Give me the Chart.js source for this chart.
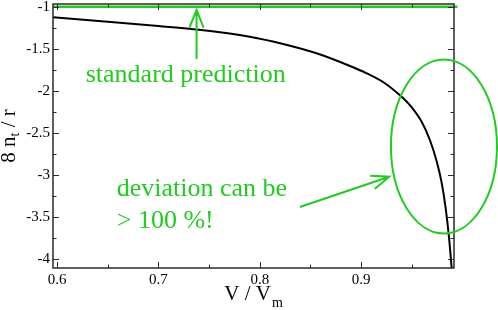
<!DOCTYPE html>
<html>
<head>
<title>8 n_t / r against V / V_m</title>
<style>
  body { margin: 0; background: #fff; }
  #box { width: 498px; height: 310px; }
</style>
</head>
<body>
<div id="box"><canvas id="myChart"></canvas></div>
<script src="https://cdn.jsdelivr.net/npm/chart.js"></script>
<script>
// black curve
const vRatio  = [0.596, 0.65, 0.70, 0.74, 0.79, 0.823, 0.856, 0.889, 0.905, 0.922, 0.933, 0.9416, 0.95, 0.9597, 0.9679, 0.9745, 0.9795, 0.9834, 0.9867, 0.9893];
const ntOverR = [-1.125, -1.178, -1.23, -1.275, -1.358, -1.444, -1.555, -1.706, -1.79, -1.90, -2.00, -2.09, -2.20, -2.37, -2.59, -2.84, -3.10, -3.40, -3.75, -4.11];

// green "standard prediction" line
const stdV = [0.596, 0.995];
const stdY = [-1, -1];

// axes
const xTicks = [0.6, 0.7, 0.8, 0.9];
const xMinor = [0.65, 0.75, 0.85, 0.95];
const yTicks = [-1, -1.5, -2, -2.5, -3, -3.5, -4];
const yMinor = [-1.25, -1.75, -2.25, -2.75, -3.25, -3.75];

const green = '#1fcc1f';
const axisCol = '#2a2a2a';
const serif = '"Liberation Serif", "Times New Roman", serif';

function pts(xs, ys) {
  return xs.map((x, i) => ({ x: x, y: ys[i] }));
}

// arrows, ellipse and labels, placed in data units
const notes = {
  arrowUp:   { from: [0.7376, -1.623], to: [0.7376, -1.039] },
  arrowSide: { from: [0.8396, -3.385], to: [0.9277, -3.024] },
  ellipse:   { cx: 0.9817, cy: -2.664, rx: 0.0523, ry: 1.036 },
  text1: { x: 0.6283, y: -1.892, lines: ['standard prediction'] },
  text2: { x: 0.6589, y: -3.25, lines: ['deviation can be', '> 100 %!'] }
};

function arrow(ctx, x1, y1, x2, y2) {
  const a = Math.atan2(y2 - y1, x2 - x1);
  const len = 19, spread = 0.38;
  ctx.beginPath();
  ctx.moveTo(x1, y1);
  ctx.lineTo(x2, y2);
  ctx.moveTo(x2 - len * Math.cos(a - spread), y2 - len * Math.sin(a - spread));
  ctx.lineTo(x2, y2);
  ctx.lineTo(x2 - len * Math.cos(a + spread), y2 - len * Math.sin(a + spread));
  ctx.stroke();
}

const extras = {
  id: 'extras',
  afterDraw(chart) {
    const ctx = chart.ctx;
    const a = chart.chartArea;
    const xs = chart.scales.x, ys = chart.scales.y;
    ctx.save();

    // frame
    ctx.strokeStyle = axisCol;
    ctx.lineWidth = 1.5;
    ctx.strokeRect(a.left, a.top, a.right - a.left, a.bottom - a.top);

    // ticks on all four sides, pointing in
    ctx.lineWidth = 1;
    ctx.beginPath();
    function xt(v, l) {
      const p = Math.round(xs.getPixelForValue(v)) + 0.5;
      ctx.moveTo(p, a.bottom); ctx.lineTo(p, a.bottom - l);
      ctx.moveTo(p, a.top); ctx.lineTo(p, a.top + l);
    }
    function yt(v, l) {
      const p = Math.round(ys.getPixelForValue(v)) + 0.5;
      ctx.moveTo(a.left, p); ctx.lineTo(a.left + l, p);
      ctx.moveTo(a.right, p); ctx.lineTo(a.right - l, p);
    }
    xTicks.forEach(v => xt(v, 6));
    xMinor.forEach(v => xt(v, 3.5));
    yTicks.forEach(v => yt(v, 6));
    yMinor.forEach(v => yt(v, 3.5));
    ctx.stroke();

    // axis titles
    ctx.fillStyle = '#000';
    ctx.textBaseline = 'alphabetic';
    ctx.textAlign = 'left';
    const big = '21px ' + serif, small = '14px ' + serif;
    ctx.font = big;
    const w1 = ctx.measureText('V / V').width;
    ctx.font = small;
    const w2 = ctx.measureText('m').width;
    let x0 = (a.left + a.right) / 2 - (w1 + w2 + 1) / 2;
    ctx.font = big;
    ctx.fillText('V / V', x0, 300);
    ctx.font = small;
    ctx.fillText('m', x0 + w1 + 1, 307);

    ctx.save();
    ctx.translate(15, (a.top + a.bottom) / 2);
    ctx.rotate(-Math.PI / 2);
    ctx.font = big;
    const p1 = ctx.measureText('8 n').width;
    const p3 = ctx.measureText(' / r').width;
    ctx.font = small;
    const p2 = ctx.measureText('t').width;
    let s = -(p1 + p2 + p3) / 2;
    ctx.font = big;
    ctx.fillText('8 n', s, 0);
    ctx.font = small;
    ctx.fillText('t', s + p1, 4);
    ctx.font = big;
    ctx.fillText(' / r', s + p1 + p2, 0);
    ctx.restore();

    // green annotations
    ctx.strokeStyle = green;
    ctx.fillStyle = green;
    ctx.lineWidth = 2;
    const px = v => xs.getPixelForValue(v);
    const py = v => ys.getPixelForValue(v);
    [notes.arrowUp, notes.arrowSide].forEach(n => {
      arrow(ctx, px(n.from[0]), py(n.from[1]), px(n.to[0]), py(n.to[1]));
    });
    const e = notes.ellipse;
    const ecx = px(e.cx), ecy = py(e.cy);
    ctx.beginPath();
    ctx.ellipse(ecx, ecy, px(e.cx + e.rx) - ecx, py(e.cy - e.ry) - ecy, 0, 0, Math.PI * 2);
    ctx.stroke();

    ctx.font = '26px ' + serif;
    [notes.text1, notes.text2].forEach(t => {
      t.lines.forEach((line, i) => {
        ctx.fillText(line, px(t.x), py(t.y) + i * 32);
      });
    });
    ctx.restore();
  }
};

const ctx = document.getElementById('myChart');
new Chart(ctx, {
  type: 'line',
  data: {
    datasets: [
      {
        label: 'standard prediction',
        data: pts(stdV, stdY),
        borderColor: green,
        borderWidth: 2.5,
        pointRadius: 0,
        clip: false
      },
      {
        label: '8 n_t / r',
        data: pts(vRatio, ntOverR),
        borderColor: '#000',
        borderWidth: 2,
        pointRadius: 0,
        cubicInterpolationMode: 'monotone'
      }
    ]
  },
  options: {
    responsive: true,
    maintainAspectRatio: false,
    animation: false,
    devicePixelRatio: 1,
    layout: { padding: { top: 4, right: 44, left: 0, bottom: 0 } },
    plugins: {
      legend: { display: false },
      tooltip: { enabled: false }
    },
    scales: {
      x: {
        type: 'linear',
        min: 0.596,
        max: 0.9916,
        grid: { display: false, drawTicks: false },
        border: { display: false },
        afterBuildTicks: s => { s.ticks = xTicks.map(v => ({ value: v })); },
        afterFit: s => { s.height = 42; s.paddingLeft = 0; s.paddingRight = 0; },
        ticks: {
          padding: 3,
          maxRotation: 0,
          color: '#000',
          font: { family: serif, size: 15 },
          callback: v => String(v)
        }
      },
      y: {
        type: 'linear',
        min: -4.111,
        max: -0.968,
        grid: { display: false, drawTicks: false },
        border: { display: false },
        afterBuildTicks: s => { s.ticks = yTicks.map(v => ({ value: v })); },
        afterFit: s => { s.width = 53; s.paddingTop = 0; s.paddingBottom = 0; },
        ticks: {
          padding: 3,
          color: '#000',
          font: { family: serif, size: 15 },
          callback: v => String(v)
        }
      }
    }
  },
  plugins: [extras]
});
</script>
</body>
</html>
